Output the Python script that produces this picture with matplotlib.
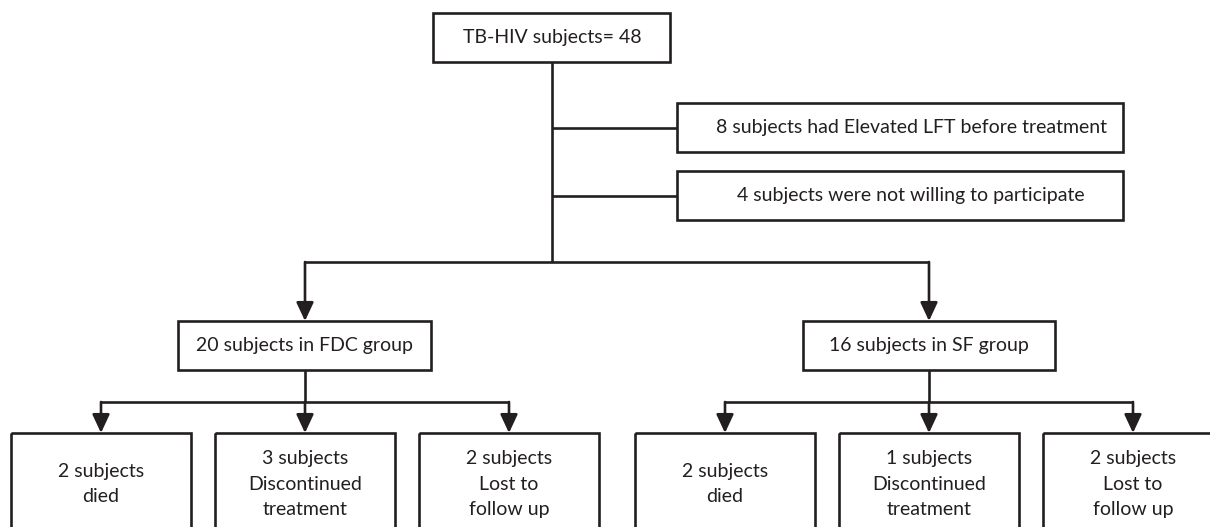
import matplotlib.pyplot as plt
from matplotlib.patches import Rectangle

# texts of the flow chart
top_label = 'TB-HIV subjects= 48'
excluded = ['8 subjects had Elevated LFT before treatment',
            '4 subjects were not willing to participate']
groups = ['20 subjects in FDC group', '16 subjects in SF group']
outcomes = [['2 subjects\ndied', '3 subjects\nDiscontinued\ntreatment', '2 subjects\nLost to\nfollow up'],
            ['2 subjects\ndied', '1 subjects\nDiscontinued\ntreatment', '2 subjects\nLost to\nfollow up']]

# layout (pixels, origin top-left)
W, H = 1210, 527
ink = '#231f20'
lw = 1.9
fs = 14
font = 'Lato'

fig = plt.figure(figsize=(W / 100, H / 100), dpi=100)
ax = fig.add_axes([0, 0, 1, 1])
ax.set_xlim(0, W)
ax.set_ylim(H, 0)
ax.axis('off')


def box(x0, y0, x1, y1):
    ax.add_patch(Rectangle((x0, y0), x1 - x0, y1 - y0, fill=False, ec=ink, lw=lw))


def line(xs, ys):
    ax.plot(xs, ys, color=ink, lw=lw, solid_capstyle='butt')


def arrow(x, y0, y1):
    ax.annotate('', xy=(x, y1), xytext=(x, y0),
                arrowprops=dict(arrowstyle='-|>,head_length=0.75,head_width=0.35',
                                color=ink, lw=lw, shrinkA=0, shrinkB=0, mutation_scale=15))


def label(x, y, s):
    ax.text(x, y, s, ha='center', va='center', fontsize=fs, family=font,
            color=ink, linespacing=1.6)


# top box and trunk
box(433, 13, 670, 62)
label(552, 38, top_label)
line([552, 552], [62, 262])

# exclusion boxes
for (y0, y1), s in zip([(103, 152), (171, 220)], excluded):
    box(677, y0, 1123, y1)
    line([552, 677], [(y0 + y1) / 2] * 2)
    label(911, (y0 + y1) / 2, s)

# split to groups
gx = [305, 929]
gw = [(178, 431), (803, 1055)]
line([gx[0], gx[1]], [262, 262])
for i, s in enumerate(groups):
    arrow(gx[i], 262, 321)
    box(gw[i][0], 321, gw[i][1], 370)
    label(gx[i], 346, s)
    line([gx[i], gx[i]], [370, 402])
    cx = [gx[i] - 204, gx[i], gx[i] + 204]
    line([cx[0], cx[2]], [402, 402])
    for j, t in enumerate(outcomes[i]):
        arrow(cx[j], 402, 433)
        box(cx[j] - 90, 433, cx[j] + 90, 560)
        label(cx[j], 484, t)

fig.savefig('out.png', dpi=100)
